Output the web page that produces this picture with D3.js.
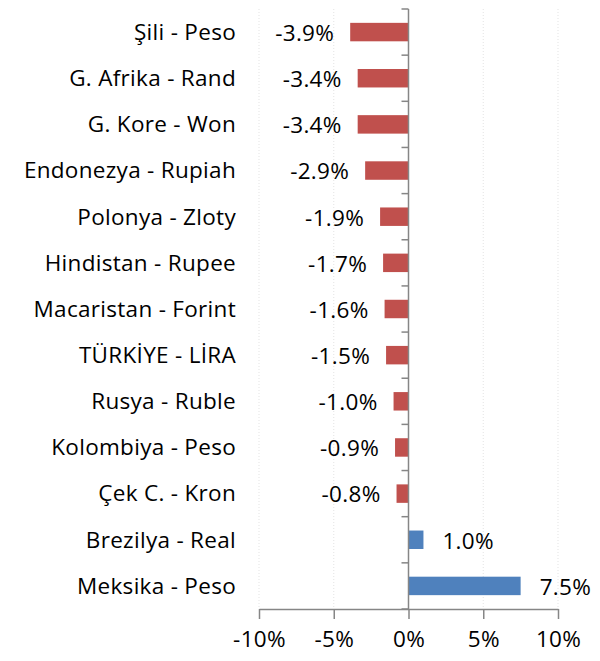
<!DOCTYPE html>
<html><head><meta charset="utf-8">
<script src="https://cdn.jsdelivr.net/npm/d3@7"></script>
<style>body{margin:0;background:#fff}svg{display:block}text{font-family:"Open Sans",sans-serif;fill:#000}</style>
</head><body><svg id="c" width="600" height="661"></svg>
<script>
const categories = ["Şili - Peso","G. Afrika - Rand","G. Kore - Won","Endonezya - Rupiah","Polonya - Zloty","Hindistan - Rupee","Macaristan - Forint","TÜRKİYE - LİRA","Rusya - Ruble","Kolombiya - Peso","Çek C. - Kron","Brezilya - Real","Meksika - Peso"];
const values = [-3.9,-3.4,-3.4,-2.9,-1.9,-1.7,-1.6,-1.5,-1.0,-0.9,-0.8,1.0,7.5];
const xTicks = [-10,-5,0,5,10];
const tickLabels = ["-10%","-5%","0%","5%","10%"];

const svg = d3.select("#c");
const fs = 22.5;
const ls = "0.3px";
const ff = "'Open Sans',sans-serif";
const x = d3.scaleLinear().domain([-10,10]).range([259,558]);
const y = d3.scaleBand().domain(categories).range([9,609]).paddingInner(0.6).paddingOuter(0.3);
const yb = d3.scaleBand().domain(categories).range([9,609]);

// gridlines
svg.append("g").selectAll("line").data(xTicks.filter(d=>d!==0)).join("line")
  .attr("x1",d=>x(d)).attr("x2",d=>x(d)).attr("y1",9).attr("y2",609)
  .attr("stroke","#e3e3e3").attr("stroke-width",1).attr("stroke-dasharray","1,2");

// bars
svg.append("g").selectAll("rect").data(values).join("rect")
  .attr("x",(d)=>x(Math.min(0,d))).attr("width",d=>Math.abs(x(d)-x(0)))
  .attr("y",(d,i)=>y(categories[i])).attr("height",y.bandwidth())
  .attr("fill",d=>d<0?"#C0504D":"#4F81BD");

// x axis
const xa = svg.append("g").attr("transform","translate(0,609)")
  .call(d3.axisBottom(x).tickValues(xTicks).tickFormat((d,i)=>tickLabels[i]).tickSize(10).tickPadding(12).tickSizeOuter(0));
xa.select(".domain").attr("stroke","#868686").attr("stroke-width",1.5);
xa.selectAll(".tick line").attr("stroke","#868686").attr("stroke-width",1.5);
xa.selectAll("text").attr("font-size",fs).attr("font-family",ff).attr("fill","#000").attr("letter-spacing",ls);

// zero axis
const ya = svg.append("g").attr("transform",`translate(${x(0)},0)`);
ya.append("line").attr("x1",0).attr("x2",0).attr("y1",9).attr("y2",609).attr("stroke","#868686").attr("stroke-width",1.5);
const bounds = categories.map(c=>yb(c)).concat([609]);
ya.selectAll("line.t").data(bounds).join("line").attr("class","t")
  .attr("x1",-7).attr("x2",0).attr("y1",d=>d).attr("y2",d=>d).attr("stroke","#868686").attr("stroke-width",1.5);

// category labels
svg.append("g").selectAll("text").data(categories).join("text")
  .attr("x",236).attr("y",d=>yb(d)+yb.bandwidth()/2).attr("dy","0.35em")
  .attr("text-anchor","end").attr("font-size",fs).attr("letter-spacing",ls).text(d=>d);

// value labels
svg.append("g").selectAll("text").data(values).join("text")
  .attr("x",d=>d<0?x(d)-16:x(d)+19).attr("y",(d,i)=>yb(categories[i])+yb.bandwidth()/2+1).attr("dy","0.35em")
  .attr("text-anchor",d=>d<0?"end":"start").attr("font-size",fs).attr("letter-spacing",ls).text(d=>d.toFixed(1)+"%");
</script></body></html>
